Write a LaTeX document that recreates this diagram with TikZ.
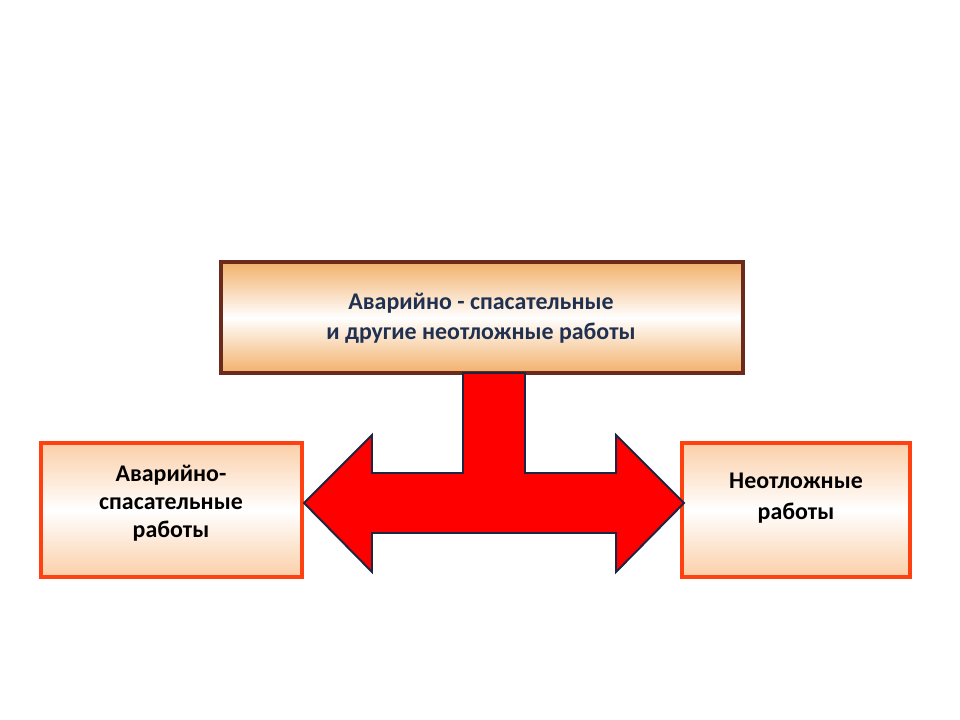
\documentclass[tikz,border=0pt]{standalone}
\usepackage{fontspec}
\setmainfont{Carlito}
\definecolor{marron}{HTML}{6B2A1C}
\definecolor{naranja}{HTML}{F2B06A}
\definecolor{melocoton}{HTML}{FBCFA8}
\definecolor{rojizo}{HTML}{FF4010}
\definecolor{azuloscuro}{HTML}{1F3050}
\definecolor{contorno}{HTML}{1E2540}
\begin{document}
\begin{tikzpicture}[x=0.025cm, y=-0.025cm,
    cajasup/.style={draw=marron, line width=2.2pt, top color=naranja, bottom color=naranja, middle color=white},
    cajalat/.style={draw=rojizo, line width=2.6pt, top color=melocoton, bottom color=melocoton, middle color=white},
    texto/.style={font=\fontsize{17}{21.5}\selectfont\bfseries, align=center}]
  % Marco de la imagen
  \useasboundingbox[fill=white] (0,0) rectangle (960,720);
  % Caja superior
  \draw[cajasup] (221,262) rectangle (743,373);
  \node[texto, text=azuloscuro] (sup) at (481,318) {Аварийно - спасательные\\и другие неотложные работы};
  % Cajas laterales
  \draw[cajalat] (41,443) rectangle (302,577);
  \node[texto, font=\fontsize{17}{20}\selectfont\bfseries] (izq) at (171,503) {Аварийно-\\спасательные\\работы};
  \draw[cajalat] (682,443) rectangle (910,577);
  \node[texto, font=\fontsize{17}{22}\selectfont\bfseries] (der) at (796,498) {Неотложные\\работы};
  % Flecha en T
  \draw[fill=red, draw=contorno, line width=1.4pt, line join=miter]
    (463,373) -- (525,373) -- (525,473) -- (616,473) -- (616,435) -- (684,503)
    -- (616,572) -- (616,533) -- (372,533) -- (372,572) -- (304,503)
    -- (372,435) -- (372,473) -- (463,473) -- cycle;
\end{tikzpicture}
\end{document}
